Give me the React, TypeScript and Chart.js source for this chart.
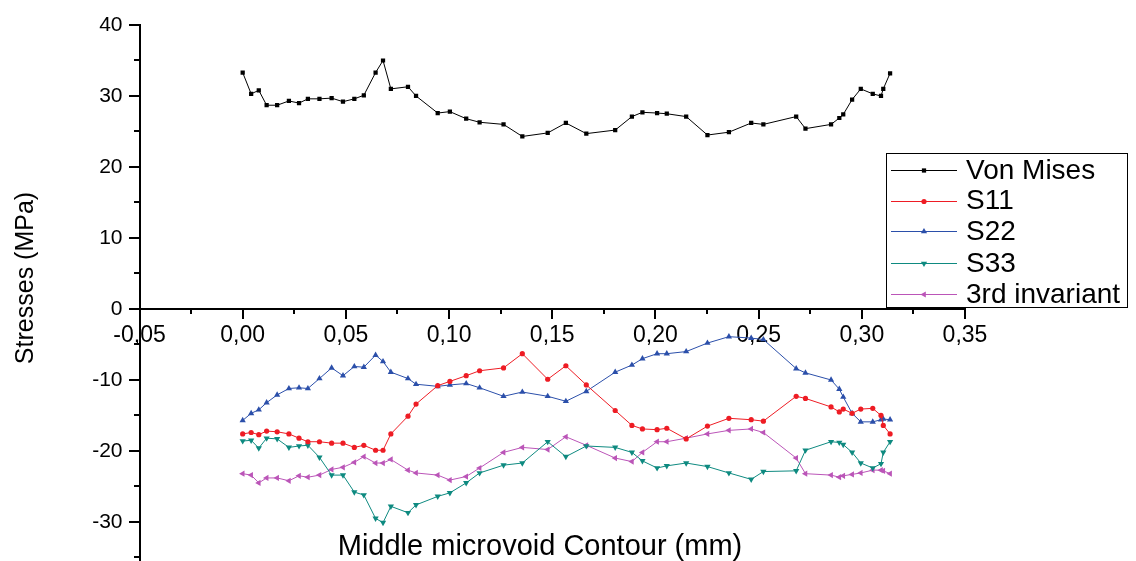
import { useEffect, useRef } from "react";
import { Chart, registerables } from "chart.js";

Chart.register(...registerables);

const FONT = "'Liberation Sans', Arial, Helvetica, sans-serif";

// Position along the middle microvoid contour (mm)
const contourX = [
  0.0, 0.0041, 0.0078, 0.0116, 0.0167, 0.0224, 0.0273, 0.0316, 0.0372, 0.0431,
  0.0486, 0.0541, 0.0587, 0.0644, 0.068, 0.0718, 0.0801, 0.084, 0.0945, 0.1004,
  0.1083, 0.1148, 0.1264, 0.1355, 0.1478, 0.1566, 0.1665, 0.1805, 0.1886, 0.1937,
  0.2008, 0.2055, 0.2149, 0.2252, 0.2356, 0.2464, 0.2523, 0.2682, 0.2727, 0.2851,
  0.2891, 0.291, 0.2953, 0.2995, 0.3053, 0.3093, 0.3104, 0.3137,
];

// Stresses (MPa)
const vonMises = [
  33.3, 30.3, 30.8, 28.7, 28.7, 29.3, 29.0, 29.6, 29.6, 29.7,
  29.2, 29.6, 30.1, 33.3, 35.0, 31.0, 31.3, 30.0, 27.6, 27.8,
  26.8, 26.3, 26.0, 24.3, 24.8, 26.2, 24.7, 25.2, 27.1, 27.7,
  27.6, 27.5, 27.1, 24.5, 24.9, 26.2, 26.0, 27.1, 25.4, 26.0,
  26.9, 27.4, 29.5, 31.0, 30.3, 30.0, 31.0, 33.2,
];

const s11 = [
  -17.6, -17.4, -17.7, -17.2, -17.3, -17.6, -18.2, -18.7, -18.7, -18.9,
  -18.9, -19.5, -19.2, -19.9, -19.9, -17.6, -15.1, -13.4, -10.8, -10.2,
  -9.4, -8.7, -8.3, -6.3, -9.9, -8.0, -10.7, -14.3, -16.4, -16.9,
  -17.0, -16.8, -18.3, -16.5, -15.4, -15.6, -15.8, -12.3, -12.6, -13.8,
  -14.5, -14.1, -14.7, -14.1, -14.0, -15.0, -16.4, -17.6,
];

const s22 = [
  -15.7, -14.7, -14.2, -13.2, -12.1, -11.2, -11.1, -11.2, -9.8, -8.3,
  -9.4, -8.1, -8.2, -6.5, -7.4, -8.9, -9.8, -10.6, -10.9, -10.7,
  -10.5, -11.1, -12.3, -11.7, -12.3, -13.0, -11.6, -8.9, -7.9, -7.0,
  -6.3, -6.3, -6.0, -4.8, -3.9, -4.1, -4.3, -8.4, -9.0, -10.0,
  -11.3, -12.4, -14.7, -15.9, -15.9, -15.6, -15.5, -15.6,
];

const s33 = [
  -18.6, -18.5, -19.6, -18.2, -18.3, -19.5, -19.3, -19.2, -20.9, -23.4,
  -23.4, -25.8, -26.2, -29.5, -30.1, -27.8, -28.7, -27.6, -26.4, -25.9,
  -24.5, -23.1, -22.0, -21.7, -18.7, -20.8, -19.3, -19.5, -20.2, -21.4,
  -22.4, -22.1, -21.7, -22.2, -23.1, -24.0, -22.9, -22.8, -19.9, -18.7,
  -18.8, -19.1, -20.2, -21.7, -22.4, -21.8, -20.2, -18.7,
];

const thirdInvariant = [
  -23.2, -23.4, -24.5, -23.8, -23.8, -24.2, -23.5, -23.7, -23.4, -22.6,
  -22.3, -21.6, -20.8, -21.7, -21.7, -21.2, -22.7, -23.1, -23.4, -24.1,
  -23.6, -22.4, -20.2, -19.5, -19.8, -18.0, -19.2, -21.0, -21.5, -20.2,
  -18.7, -18.7, -18.2, -17.6, -17.1, -16.9, -17.4, -21.0, -23.2, -23.4,
  -23.7, -23.5, -23.3, -23.1, -22.7, -22.7, -22.8, -23.2,
];

const seriesNames = ["Von Mises", "S11", "S22", "S33", "3rd invariant"];
const seriesValues = [vonMises, s11, s22, s33, thirdInvariant];
const seriesColors = ["#000000", "#ee1c24", "#2b4faa", "#0e8a80", "#bb55b8"];
const seriesMarkers = ["rect", "circle", "triangle", "triangle", "triangle"];
const seriesRotation = [0, 0, 0, 180, -90];
const seriesRadius = [3, 2.6, 3.6, 3.6, 3.6];

const xRange = [-0.05, 0.35];
const yRange = [-35.5, 40];

const xTitle = "Middle microvoid Contour (mm)";
const yTitle = "Stresses (MPa)";

function fmtX(v: number) {
  const r = Math.abs(v) < 1e-9 ? 0 : v;
  return r.toFixed(2).replace(".", ",");
}

function drawMarker(
  ctx: CanvasRenderingContext2D,
  style: string,
  x: number,
  y: number,
  r: number,
  rotDeg: number
) {
  ctx.beginPath();
  if (style === "rect") {
    const s = r * Math.SQRT1_2;
    ctx.rect(x - s, y - s, 2 * s, 2 * s);
  } else if (style === "circle") {
    ctx.arc(x, y, r, 0, Math.PI * 2);
  } else {
    let a = (rotDeg * Math.PI) / 180;
    ctx.moveTo(x + Math.sin(a) * r, y - Math.cos(a) * r);
    a += (2 * Math.PI) / 3;
    ctx.lineTo(x + Math.sin(a) * r, y - Math.cos(a) * r);
    a += (2 * Math.PI) / 3;
    ctx.lineTo(x + Math.sin(a) * r, y - Math.cos(a) * r);
    ctx.closePath();
  }
  ctx.fill();
}

// Tick marks (major + minor), axis titles and the boxed legend
const decorations = {
  id: "decorations",
  afterDraw(chart: any) {
    const { ctx, chartArea } = chart;
    const xs = chart.scales.x;
    const ys = chart.scales.y;
    const axisX = Math.round(chartArea.left);
    const axisY = Math.round(ys.getPixelForValue(0));
    ctx.save();
    ctx.strokeStyle = "#000";
    ctx.lineWidth = 2;
    ctx.lineCap = "butt";

    for (let v = -35; v <= 40; v += 5) {
      const py = Math.round(ys.getPixelForValue(v));
      const len = v % 10 === 0 ? 11 : 6;
      ctx.beginPath();
      ctx.moveTo(axisX - len, py);
      ctx.lineTo(axisX, py);
      ctx.stroke();
    }
    for (let i = 0; i <= 16; i++) {
      const v = xRange[0] + i * 0.025;
      const px = Math.round(xs.getPixelForValue(v));
      const len = i % 2 === 0 ? 10 : 5;
      ctx.beginPath();
      ctx.moveTo(px, axisY);
      ctx.lineTo(px, axisY + len);
      ctx.stroke();
    }

    // axis titles
    ctx.fillStyle = "#000";
    ctx.font = `29px ${FONT}`;
    ctx.textAlign = "center";
    ctx.textBaseline = "alphabetic";
    ctx.fillText(xTitle, 540, 555);

    ctx.save();
    ctx.translate(33, 278);
    ctx.rotate(-Math.PI / 2);
    ctx.font = `25px ${FONT}`;
    ctx.fillText(yTitle, 0, 0);
    ctx.restore();

    // legend
    const bx = 886.5, by = 153.5, bw = 241, bh = 154;
    ctx.fillStyle = "#fff";
    ctx.fillRect(bx, by, bw, bh);
    ctx.lineWidth = 1;
    ctx.strokeStyle = "#000";
    ctx.strokeRect(bx, by, bw, bh);
    const rowY = [170, 200.5, 231, 263, 294];
    ctx.font = `28px ${FONT}`;
    ctx.textAlign = "left";
    ctx.textBaseline = "middle";
    seriesNames.forEach((name, i) => {
      const y = Math.round(rowY[i]) + 0.5;
      ctx.strokeStyle = seriesColors[i];
      ctx.fillStyle = seriesColors[i];
      ctx.lineWidth = 1;
      ctx.beginPath();
      ctx.moveTo(891, y);
      ctx.lineTo(957, y);
      ctx.stroke();
      drawMarker(ctx, seriesMarkers[i], 924, y, seriesRadius[i], seriesRotation[i]);
      ctx.fillStyle = "#000";
      ctx.fillText(name, 966, rowY[i] + 1);
    });
    ctx.restore();
  },
};

export default function App() {
  const canvasRef = useRef<HTMLCanvasElement | null>(null);

  useEffect(() => {
    const canvas = canvasRef.current;
    if (!canvas) return;

    const datasets = seriesNames.map((name, i) => ({
      label: name,
      data: contourX.map((x, k) => ({ x, y: seriesValues[i][k] })),
      borderColor: seriesColors[i],
      backgroundColor: seriesColors[i],
      borderWidth: 1,
      pointStyle: seriesMarkers[i] as any,
      pointRotation: seriesRotation[i],
      pointRadius: seriesRadius[i],
      pointBorderWidth: 0,
      pointHoverRadius: seriesRadius[i],
      tension: 0,
      showLine: true,
    }));

    const chart = new Chart(canvas, {
      type: "scatter",
      data: { datasets },
      options: {
        animation: false,
        responsive: false,
        devicePixelRatio: 1,
        layout: { autoPadding: false, padding: { left: 0, top: 25, right: 171, bottom: 0 } },
        plugins: {
          legend: { display: false },
          tooltip: { enabled: false },
        },
        scales: {
          x: {
            type: "linear",
            min: xRange[0],
            max: xRange[1],
            position: { y: 0 } as any,
            grid: { display: false, drawTicks: false },
            border: { display: true, color: "#000", width: 2 },
            ticks: {
              stepSize: 0.05,
              color: "#000",
              font: { family: FONT, size: 23 },
              padding: 13,
              maxRotation: 0,
              autoSkip: false,
              callback: (v: any) => fmtX(Number(v)),
            },
            afterFit: (s: any) => {
              s.height = 0;
              s.paddingLeft = 0;
              s.paddingRight = 0;
            },
          },
          y: {
            type: "linear",
            position: "left",
            min: yRange[0],
            max: yRange[1],
            grid: { display: false, drawTicks: false },
            border: { display: true, color: "#000", width: 2 },
            ticks: {
              stepSize: 10,
              includeBounds: false,
              color: "#000",
              font: { family: FONT, size: 21 },
              padding: 17,
              callback: (v: any) => `${Number(v)}`,
            },
            afterFit: (s: any) => {
              s.width = 139.5;
              s.paddingTop = 0;
              s.paddingBottom = 0;
            },
          },
        },
      },
      plugins: [decorations],
    });

    return () => chart.destroy();
  }, []);

  return (
    <div style={{ position: "fixed", left: 0, top: 0, width: 1136, height: 561, background: "#fff" }}>
      <canvas ref={canvasRef} width={1136} height={561} style={{ display: "block" }} />
    </div>
  );
}
